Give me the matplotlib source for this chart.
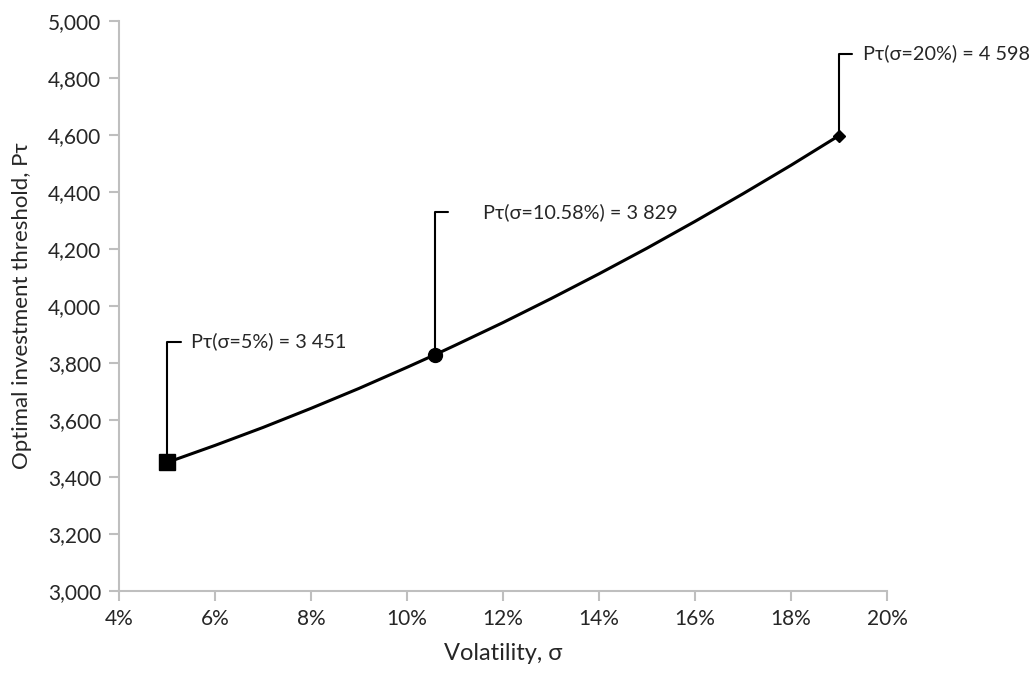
import matplotlib
matplotlib.use("Agg")
import matplotlib.pyplot as plt
from matplotlib.ticker import FuncFormatter, MultipleLocator

plt.rcParams['font.family'] = ['Lato', 'DejaVu Sans']

# curve (volatility in %, threshold)
vol = [5, 6, 7, 8, 9, 10, 10.58, 11, 12, 13, 14, 15, 16, 17, 18, 19]
threshold = [3451, 3511, 3574, 3641, 3711, 3785, 3829, 3862, 3942, 4026,
             4113, 4203, 4297, 4394, 4494, 4598]

# highlighted points
pt_vol = [5, 10.58, 19]
pt_val = [3451, 3829, 4598]
pt_labels = ["Pτ(σ=5%) = 3 451", "Pτ(σ=10.58%) = 3 829", "Pτ(σ=20%) = 4 598"]
pt_markers = ["s", "o", "D"]

grey = "#BFBFBF"
txt = "#262626"

fig = plt.figure(figsize=(10.36, 6.74), dpi=100)
ax = fig.add_axes([0.1149, 0.1231, 0.8562 - 0.1149, 0.9688 - 0.1231])

ax.plot(vol, threshold, color="black", lw=2.2, zorder=3)

sizes = [11.5, 10, 6]
# leader line: (end of horizontal stub dx, text dx, height dy) in points
offsets = [(10, 17, 87), (9.4, 34.5, 103), (9.4, 17, 59)]
for x, y, lab, m, s, (dx1, dx2, dy) in zip(pt_vol, pt_val, pt_labels, pt_markers, sizes, offsets):
    ax.plot([x], [y], marker=m, color="black", markersize=s, zorder=4, clip_on=False)
    ax.annotate("", xy=(x, y), xytext=(dx1, dy), textcoords="offset points",
                arrowprops=dict(arrowstyle="-", color="black", lw=1.5,
                                connectionstyle="angle,angleA=0,angleB=90,rad=0",
                                shrinkA=0, shrinkB=0))
    ax.annotate(lab, xy=(x, y), xytext=(dx2, dy), textcoords="offset points",
                ha="left", va="center", fontsize=14.3, color=txt, annotation_clip=False)

ax.set_xlim(4, 20)
ax.set_ylim(3000, 5000)
ax.xaxis.set_major_locator(MultipleLocator(2))
ax.yaxis.set_major_locator(MultipleLocator(200))
ax.xaxis.set_major_formatter(FuncFormatter(lambda v, p: f"{v:.0f}%"))
ax.yaxis.set_major_formatter(FuncFormatter(lambda v, p: f"{v:,.0f}"))

for side in ["top", "right"]:
    ax.spines[side].set_visible(False)
for side in ["left", "bottom"]:
    ax.spines[side].set_color(grey)
    ax.spines[side].set_linewidth(1.5)
ax.tick_params(colors=grey, labelcolor=txt, labelsize=15, length=7, width=1.5, pad=6)

ax.set_xlabel("Volatility, σ", fontsize=17, color=txt, labelpad=10)
ax.set_ylabel("Optimal investment threshold, Pτ", fontsize=16, color=txt, labelpad=11)

fig.savefig("out.png", dpi=100)
